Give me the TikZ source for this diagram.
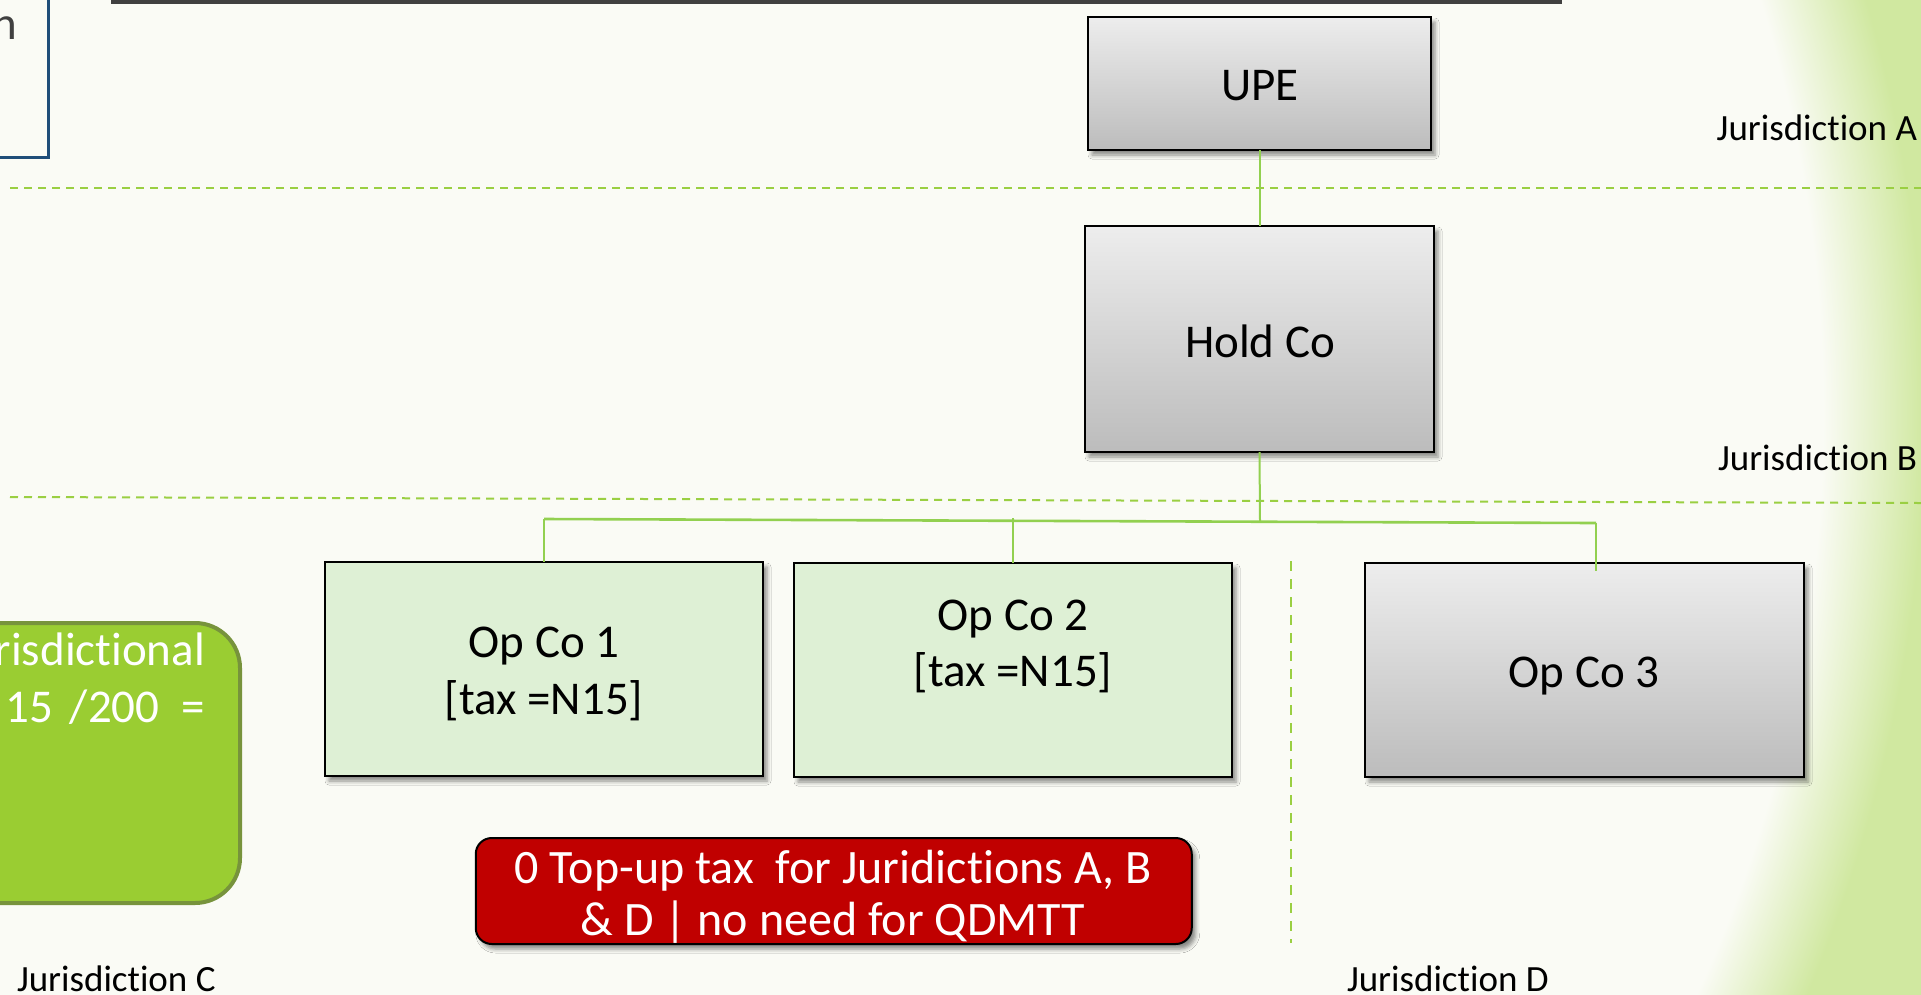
\documentclass[tikz,border=0pt]{standalone}
\usepackage{fontspec}
\setmainfont{Carlito}[Ligatures=NoCommon]
\usetikzlibrary{shadows.blur}

\definecolor{bgwhite}{HTML}{FAFBF5}
\definecolor{bggreen}{HTML}{D0E8A0}
\definecolor{linkgreen}{HTML}{92D050}
\definecolor{dashgreen}{HTML}{9ACF42}
\definecolor{opgreen}{HTML}{DEF0D5}
\definecolor{etrgreen}{HTML}{9ACD32}
\definecolor{etredge}{HTML}{77933C}
\definecolor{alertred}{HTML}{C00000}
\definecolor{framebl}{HTML}{1F4E79}
\definecolor{bargrey}{HTML}{404040}
\definecolor{boxtop}{HTML}{EDEDED}
\definecolor{boxbot}{HTML}{BCBCBC}

% slide background: off-white centre fading into a soft green rim
\pgfdeclareradialshading{slideglow}{\pgfpointorigin}{%
  color(0bp)=(bgwhite); color(20.45bp)=(bgwhite);
  color(21.95bp)=(bggreen); color(50bp)=(bggreen)}

\newcommand{\fsbig}{\fontsize{47pt}{52pt}\selectfont}
\newcommand{\fsalert}{\fontsize{48pt}{52pt}\selectfont}
\newcommand{\fslabel}{\fontsize{37pt}{42pt}\selectfont}

\begin{document}
\begin{tikzpicture}[x=1pt,y=-1pt,
  every node/.style={inner sep=0pt, outer sep=0pt},
  entity/.style={draw=black, line width=2pt,
    blur shadow={shadow xshift=4pt, shadow yshift=-5pt,
                 shadow blur radius=4pt, shadow opacity=45}},
  greybox/.style={entity, top color=boxtop, bottom color=boxbot},
  opbox/.style={entity, fill=opgreen},
  bigtext/.style={font=\fsbig, anchor=base, text=black},
  whitetext/.style={font=\fsbig, text=white},
  jlabel/.style={font=\fslabel, text=black},
  link/.style={draw=linkgreen, line width=2pt},
  tap/.style={draw=linkgreen, line width=1.6pt},
  divider/.style={draw=dashgreen, line width=2pt, dash pattern=on 8pt off 6pt},
  vdivider/.style={draw=dashgreen, line width=2pt, dash pattern=on 10pt off 8pt},
]
\useasboundingbox (0,0) rectangle (1921,994);
\clip (0,0) rectangle (1921,994);

% background
\shade[shading=slideglow] (-1268,-1286) rectangle (2132,2114);

% title rule and the corner note frame
\fill[bargrey] (111,0) rectangle (1562,3.5);
\node[draw=framebl, line width=3pt, fill=bgwhite, anchor=south east,
      minimum width=120pt, minimum height=200pt] (note) at (48.5,157.5) {};
\node[font=\fsbig, text=bargrey, anchor=base west] (notetxt) at (-8,39) {n};

% jurisdiction boundaries
\coordinate (divAl) at (10,188);  \coordinate (divAr) at (1921,188);
\coordinate (divBl) at (10,497);  \coordinate (divBr) at (1921,503);
\coordinate (divDt) at (1291,561); \coordinate (divDb) at (1291,943);
\draw[divider] (divAl) -- (divAr);
\draw[divider] (divBl) -- (divBr);
\draw[vdivider] (divDt) -- (divDb);

% entities
\node[greybox, minimum width=343pt, minimum height=133pt] (upe) at (1259.5,83.5) {};
\node[greybox, minimum width=349pt, minimum height=226pt] (hold) at (1259.5,339) {};
\node[opbox, minimum width=438pt, minimum height=214pt] (op1) at (544,669) {};
\node[opbox, minimum width=438pt, minimum height=214pt] (op2) at (1013,670) {};
\node[greybox, minimum width=439pt, minimum height=214pt] (op3) at (1584.5,670) {};

\node[bigtext] (upetxt) at (1260,100) {UPE};
\node[bigtext] (holdtxt) at (1260,357) {Hold Co};
\node[bigtext] (op1a) at (544,657) {Op Co 1};
\node[bigtext] (op1b) at (544,714) {[tax =N15]};
\node[bigtext] (op2a) at (1013,630) {Op Co 2};
\node[bigtext] (op2b) at (1013,686) {[tax =N15]};
\node[bigtext] (op3txt) at (1584,687) {Op Co 3};

% ownership links
\coordinate (busL) at (544,519);
\coordinate (busM) at (1260,522);
\coordinate (bus2) at (1013,518);
\coordinate (busR) at (1596,523);
\coordinate (op3tap) at (1596,571);
\draw[link] (upe.south) -- (hold.north);
\draw[link] (hold.south) -- (busM);
\draw[link, line width=2.6pt] (busL) -- (busR);
\draw[tap] (busL) -- (op1.north);
\draw[tap] (bus2) -- (op2.north);
\draw[tap] (busR) -- (op3tap);

% jurisdictional ETR panel
\node[draw=etredge, line width=4pt, fill=etrgreen, rounded corners=45pt,
      minimum width=310pt, minimum height=280pt] (etr) at (85,763) {};
\node[whitetext, anchor=base east] (etra) at (205,665) {risdictional};
\node[whitetext, anchor=base east] (etrb) at (205,722) {15\hspace{17pt}/200\hspace{22pt}=};

% conclusion
\node[entity, fill=alertred, rounded corners=16pt,
      minimum width=716pt, minimum height=106pt] (alert) at (833.75,891) {};
\node[whitetext, font=\fsalert, anchor=base] (alerta) at (833,883) {0 Top-up tax\ \ for Juridictions A, B};
\node[whitetext, font=\fsalert, anchor=base] (alertb) at (833,935) {\&\ D | no need for QDMTT};

% jurisdiction names
\node[jlabel, anchor=base east] (jA) at (1917,140) {Jurisdiction A};
\node[jlabel, anchor=base east] (jB) at (1917,470) {Jurisdiction B};
\node[jlabel, anchor=base west] (jC) at (17,991) {Jurisdiction C};
\node[jlabel, anchor=base west] (jD) at (1347,991) {Jurisdiction D};
\end{tikzpicture}
\end{document}
